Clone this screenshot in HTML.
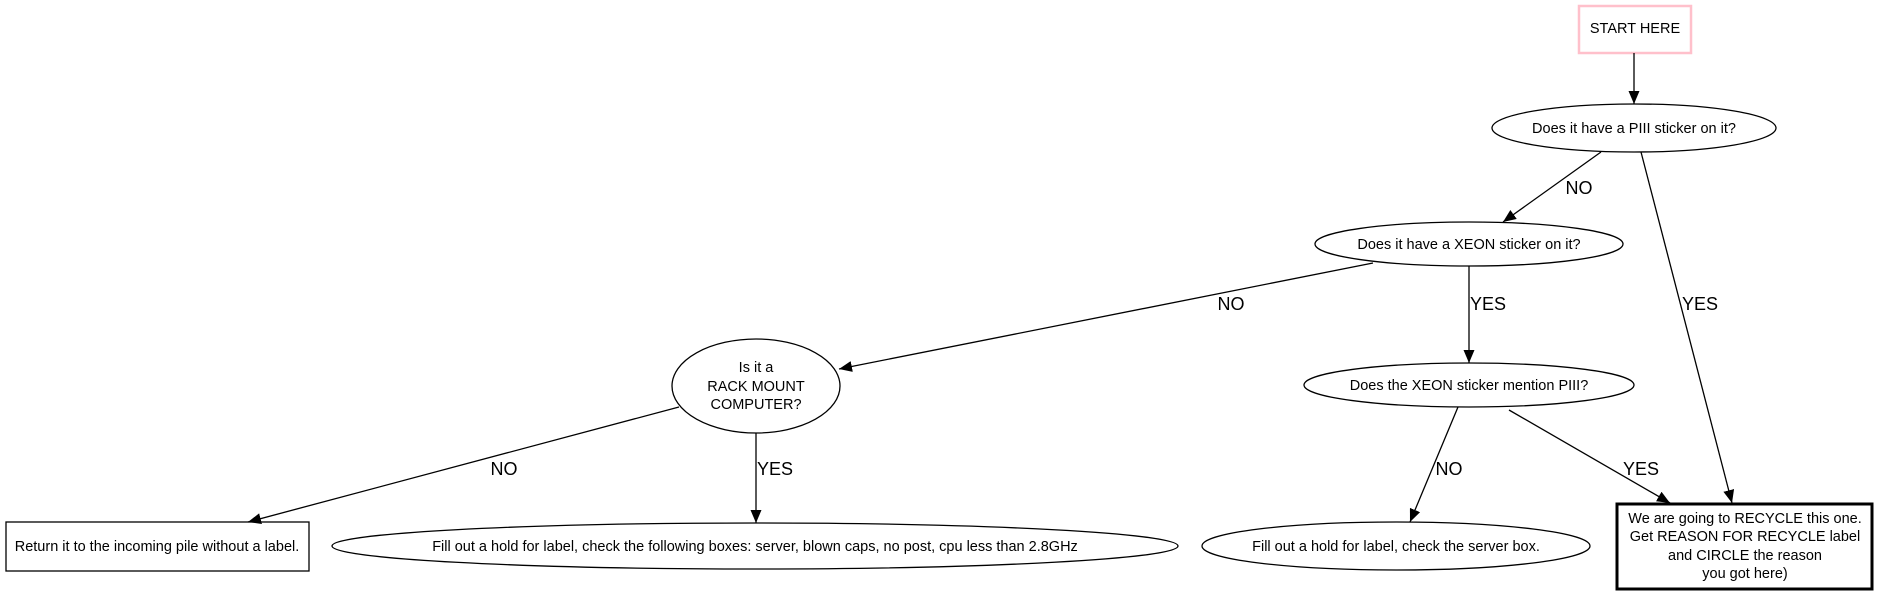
<!DOCTYPE html>
<html><head><style>html,body{margin:0;padding:0;background:#fff}svg{display:block}</style></head><body>
<svg width="1877" height="595" viewBox="0 0 1877 595" xmlns="http://www.w3.org/2000/svg" font-family="Liberation Sans, Arial, sans-serif">
<defs><marker id="a" markerWidth="13" markerHeight="11" refX="13" refY="5.5" orient="auto" markerUnits="userSpaceOnUse"><path d="M0,0 L13,5.5 L0,11 z" fill="#000"/></marker></defs>
<g fill="none" stroke="#000" stroke-width="1.3">
<rect x="1579" y="6" width="112" height="47" stroke="#ffc0cb" stroke-width="2.5"/>
<ellipse cx="1634" cy="128" rx="142" ry="24"/>
<ellipse cx="1469" cy="244" rx="154" ry="22"/>
<ellipse cx="1469" cy="385" rx="165" ry="22"/>
<ellipse cx="756" cy="386" rx="84" ry="47"/>
<rect x="6" y="522" width="303" height="49"/>
<ellipse cx="755" cy="546" rx="423" ry="23"/>
<ellipse cx="1396" cy="546" rx="194" ry="24"/>
<rect x="1617" y="504" width="255" height="85" stroke-width="3"/>
<g marker-end="url(#a)">
<line x1="1634" y1="53" x2="1634" y2="104"/>
<line x1="1601" y1="152" x2="1503" y2="222"/>
<line x1="1641" y1="152" x2="1732" y2="503"/>
<line x1="1469" y1="266" x2="1469" y2="363"/>
<line x1="1373" y1="263" x2="839" y2="369"/>
<line x1="679" y1="407" x2="248" y2="522"/>
<line x1="756" y1="433" x2="756" y2="523"/>
<line x1="1458" y1="407" x2="1410" y2="522"/>
<line x1="1509" y1="410" x2="1670" y2="503"/>
</g></g>
<g font-size="14.5" text-anchor="middle" fill="#000">
<text x="1635" y="33">START HERE</text>
<text x="1634" y="133">Does it have a PIII sticker on it?</text>
<text x="1469" y="249">Does it have a XEON sticker on it?</text>
<text x="1469" y="390">Does the XEON sticker mention PIII?</text>
<text x="756" y="372">Is it a</text>
<text x="756" y="391">RACK MOUNT</text>
<text x="756" y="409">COMPUTER?</text>
<text x="157" y="551">Return it to the incoming pile without a label.</text>
<text x="755" y="551">Fill out a hold for label, check the following boxes: server, blown caps, no post, cpu less than 2.8GHz</text>
<text x="1396" y="551">Fill out a hold for label, check the server box.</text>
<text x="1745" y="523">We are going to RECYCLE this one.</text>
<text x="1745" y="541">Get REASON FOR RECYCLE label</text>
<text x="1745" y="560">and CIRCLE the reason</text>
<text x="1745" y="578">you got here)</text>
</g>
<g font-size="18" text-anchor="middle" fill="#000">
<text x="1579" y="194">NO</text>
<text x="1700" y="310">YES</text>
<text x="1488" y="310">YES</text>
<text x="1231" y="310">NO</text>
<text x="504" y="475">NO</text>
<text x="775" y="475">YES</text>
<text x="1449" y="475">NO</text>
<text x="1641" y="475">YES</text>
</g>
</svg>
</body></html>
